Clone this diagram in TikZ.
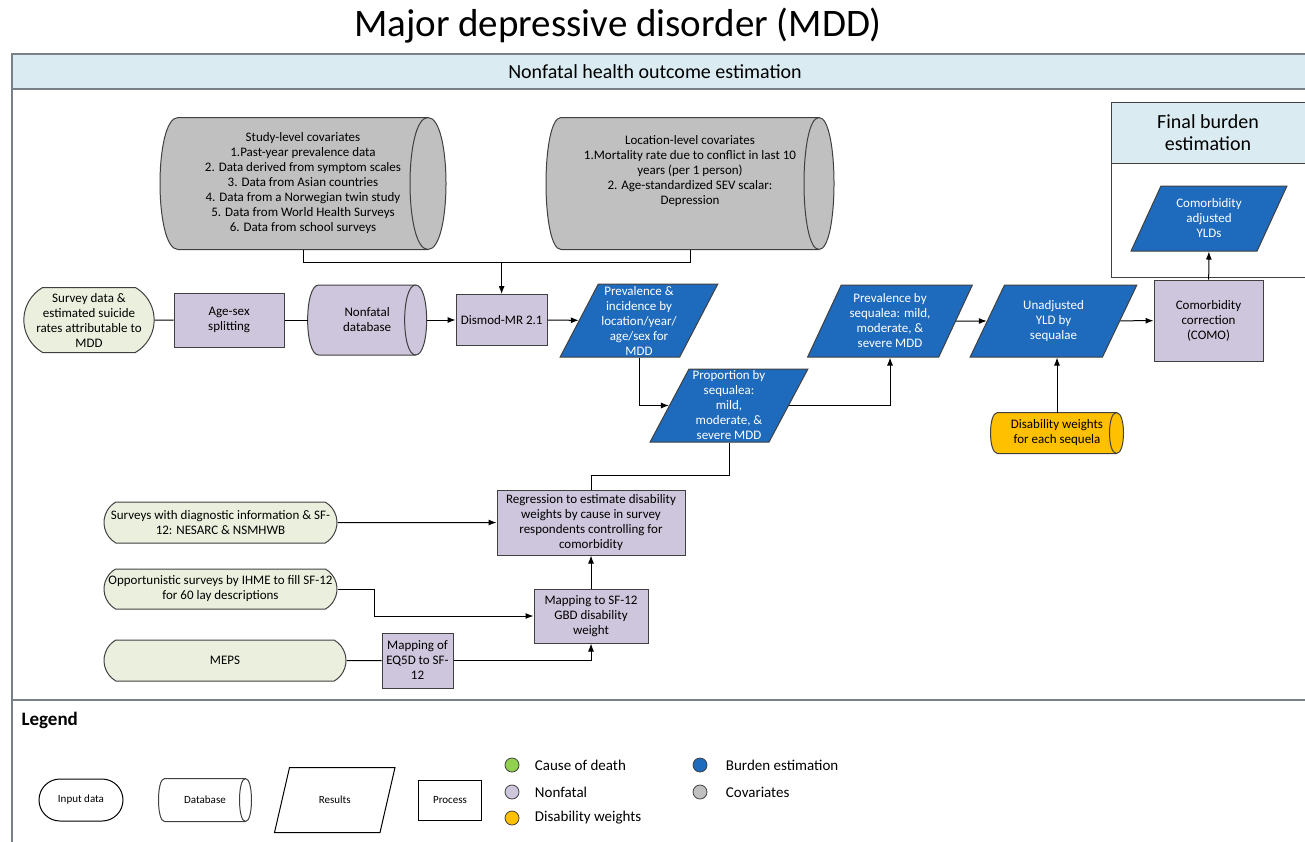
\documentclass[tikz,border=0pt]{standalone}
\usepackage{fontspec}
\setmainfont{Carlito}
\usetikzlibrary{positioning,shapes.geometric,shapes.misc,arrows.meta,backgrounds}

\definecolor{nfpurple}{RGB}{206,198,220}
\definecolor{inputgreen}{RGB}{235,240,222}
\definecolor{covgray}{RGB}{192,192,192}
\definecolor{burdenblue}{RGB}{30,106,188}
\definecolor{dwyellow}{RGB}{255,192,0}
\definecolor{headblue}{RGB}{218,236,242}
\definecolor{codgreen}{RGB}{146,208,80}
\definecolor{edgegray}{RGB}{64,64,64}
\definecolor{framegray}{RGB}{120,128,136}

% cylinder outline behind a named node: node, fill, end bulge (pt)
\newcommand{\cylshape}[3]{%
  \begin{pgfonlayer}{background}
    \draw[fill=#2,draw=edgegray,line width=1pt]
      ([xshift=#3pt]#1.north west) -- ([xshift=-#3pt]#1.north east)
      .. controls ([xshift=#3pt/3]#1.north east) and ([xshift=#3pt/3]#1.south east) .. ([xshift=-#3pt]#1.south east)
      -- ([xshift=#3pt]#1.south west)
      .. controls ([xshift=-#3pt/3]#1.south west) and ([xshift=-#3pt/3]#1.north west) .. ([xshift=#3pt]#1.north west) -- cycle;
    \draw[draw=edgegray,line width=1pt] ([xshift=-#3pt]#1.north east)
      .. controls ([xshift=-7*#3pt/3]#1.north east) and ([xshift=-7*#3pt/3]#1.south east) .. ([xshift=-#3pt]#1.south east);
  \end{pgfonlayer}}

\tikzset{
  base/.style={draw=edgegray,line width=1pt,align=center,inner sep=1pt,font=\fontsize{13}{15}\selectfont},
  inputdata/.style={base,rounded rectangle,rounded rectangle arc length=120,fill=inputgreen},
  process/.style={base,rectangle,fill=nfpurple},
  database/.style={base,rectangle,draw=none},
  result/.style={base,trapezium,trapezium left angle=63,trapezium right angle=117,trapezium stretches=true,fill=burdenblue,text=white},
  link/.style={draw=black,line width=1pt},
  arrowlink/.style={link,-{Latex[length=8pt,width=6pt]}},
  legshape/.style={base,draw=black,fill=white,font=\fontsize{11}{13}\selectfont},
  legtext/.style={font=\fontsize{15}{17}\selectfont,anchor=west},
  dot/.style={circle,draw=edgegray,line width=0.8pt,minimum size=14pt,inner sep=0pt},
}

\begin{document}
\begin{tikzpicture}[x=1pt,y=-1pt]
  \useasboundingbox (0,0) rectangle (1305,841);

  % title and frame
  \node (title) [anchor=base,font=\fontsize{39}{44}\selectfont] at (618,36) {Major depressive disorder (MDD)};
  \fill[headblue] (12,54) rectangle (1310,89);
  \draw[framegray,line width=1.5pt] (1310,54) -- (12,54) -- (12,850);
  \draw[framegray,line width=1.5pt] (12,89) -- (1310,89);
  \draw[framegray,line width=1.5pt] (12,700) -- (1310,700);
  \node (nfhead) [font=\fontsize{20}{24}\selectfont] at (655,72) {Nonfatal health outcome estimation};

  % final burden box
  \fill[headblue] (1111,102) rectangle (1310,163);
  \draw[edgegray,line width=1pt] (1310,102) -- (1111,102) -- (1111,277) -- (1310,277);
  \draw[edgegray,line width=1pt] (1111,163) -- (1310,163);
  \node (fbhead) [align=center,font=\fontsize{20}{22}\selectfont] at (1208,133) {Final burden\\estimation};

  % covariates
  \node (study) [database,minimum width=285pt,minimum height=131pt] at (303,183.5)
    {Study-level covariates\\1.Past-year prevalence data\\2. Data derived from symptom scales\\3. Data from Asian countries\\4. Data from a Norwegian twin study\\5. Data from World Health Surveys\\6. Data from school surveys};
  \cylshape{study}{covgray}{18}
  \node (location) [database,minimum width=287pt,minimum height=131pt] at (690,183.5)
    {Location-level covariates\\1.Mortality rate due to conflict in last 10\\years (per 1 person)\\2. Age-standardized SEV scalar:\\Depression\\[12pt]};
  \cylshape{location}{covgray}{15}

  % main row
  \node (survey) [inputdata,minimum width=128pt,minimum height=65pt] at (89,320) {Survey data \&\\estimated suicide\\rates attributable to\\MDD};
  \node (agesex) [process,right=19pt of survey,minimum width=110pt,minimum height=54pt] {Age-sex\\splitting};
  \node (nfdb) [database,right=23pt of agesex,minimum width=118pt,minimum height=69pt] {Nonfatal\\database};
  \cylshape{nfdb}{nfpurple}{11}
  \node (dismod) [process,right=29pt of nfdb,minimum width=91pt,minimum height=51pt] {Dismod-MR 2.1};
  \node (previnc) [result,minimum width=158pt,minimum height=73pt] at (639,320.5) {Prevalence \&\\incidence by\\location/year/\\age/sex for\\MDD};
  \node (prop) [result,minimum width=158pt,minimum height=73pt] at (729,405.5) {Proportion by\\sequalea:\\mild,\\moderate, \&\\severe MDD};
  \node (prevseq) [result,minimum width=165pt,minimum height=72pt] at (890,321) {Prevalence by\\sequalea: mild,\\moderate, \&\\severe MDD};
  \node (unadj) [result,minimum width=167pt,minimum height=72pt] at (1053.5,321) {Unadjusted\\YLD by\\sequalae};
  \node (como) [process,minimum width=109pt,minimum height=81pt] at (1208.5,320.5) {Comorbidity\\correction\\(COMO)};
  \node (yld) [result,minimum width=156pt,minimum height=65pt] at (1209,218.5) {Comorbidity\\adjusted\\YLDs};
  \node (dw) [database,minimum width=132pt,minimum height=40pt] at (1057,433) {Disability weights\\for each sequela};
  \cylshape{dw}{dwyellow}{7}

  % disability weight inputs
  \node (regress) [process,minimum width=188pt,minimum height=65pt] at (591,522.5) {Regression to estimate disability\\weights by cause in survey\\respondents controlling for\\comorbidity};
  \node (mapsf) [process,below=33pt of regress,minimum width=114pt,minimum height=54pt] {Mapping to SF-12\\GBD disability\\weight};
  \node (diag) [inputdata,minimum width=235pt,minimum height=41pt] at (220.5,522.5) {Surveys with diagnostic information \& SF-\\12: NESARC \& NSMHWB};
  \node (opp) [inputdata,below=25pt of diag,minimum width=235pt,minimum height=40pt] {Opportunistic surveys by IHME to fill SF-12\\for 60 lay descriptions};
  \node (meps) [inputdata,minimum width=244pt,minimum height=41pt] at (225,660.5) {MEPS};
  \node (eqfive) [process,right=35pt of meps,minimum width=71pt,minimum height=55pt] {Mapping of\\EQ5D to SF-\\12};

  % connectors
  \coordinate[above=32pt of dismod.north] (merge);
  \draw[link] (study.south) |- (merge);
  \draw[link] (location.south) |- (merge);
  \draw[arrowlink] (merge) -- (dismod.north);
  \draw[link] (survey) -- (agesex);
  \draw[link] (agesex) -- (nfdb);
  \draw[arrowlink] (nfdb) -- (dismod);
  \draw[arrowlink] (dismod) -- (previnc);
  \draw[arrowlink] (previnc.south) |- (prop.west);
  \draw[arrowlink] (prop.east) -| (prevseq.south);
  \draw[arrowlink] (prevseq) -- (unadj);
  \draw[arrowlink] (unadj) -- (como);
  \draw[arrowlink] (como) -- (yld);
  \draw[arrowlink] (dw.north) -- (dw.north |- unadj.south);
  \draw[link] (prop.south) -- ++(0,33) -| (regress.north);
  \draw[arrowlink] (mapsf) -- (regress);
  \draw[arrowlink] (diag) -- (regress);
  \draw[arrowlink] (opp.east) -- ++(37,0) |- (mapsf.west);
  \draw[link] (meps) -- (eqfive);
  \draw[arrowlink] (eqfive.east) -| (mapsf.south);

  % legend
  \node (legend) [anchor=west,font=\fontsize{19}{22}\bfseries] at (18,720) {Legend};
  \node (leginput) [legshape,rounded rectangle,minimum width=86pt,minimum height=42pt] at (81,800) {Input data};
  \node (legdb) [legshape,rectangle,draw=none,fill=none,right=35pt of leginput,minimum width=92pt,minimum height=42pt] {Database};
  \cylshape{legdb}{white}{6}
  \node (legres) [legshape,trapezium,trapezium left angle=60,trapezium right angle=120,trapezium stretches=true,right=30pt of legdb,minimum width=121pt,minimum height=65pt] {Results};
  \node (legproc) [legshape,rectangle,right=30pt of legres,minimum width=63pt,minimum height=40pt] {Process};

  \node (coddot) [dot,fill=codgreen] at (512,765) {};
  \node (nfdot) [dot,fill=nfpurple] at (512,792) {};
  \node (dwdot) [dot,fill=dwyellow] at (512,818) {};
  \node (bedot) [dot,fill=burdenblue] at (700,765) {};
  \node (covdot) [dot,fill=covgray] at (700,792) {};
  \node [legtext,right=12pt of coddot] {Cause of death};
  \node [legtext,right=12pt of nfdot] {Nonfatal};
  \node [legtext,right=12pt of dwdot] {Disability weights};
  \node [legtext,right=15pt of bedot] {Burden estimation};
  \node [legtext,right=15pt of covdot] {Covariates};
\end{tikzpicture}
\end{document}
